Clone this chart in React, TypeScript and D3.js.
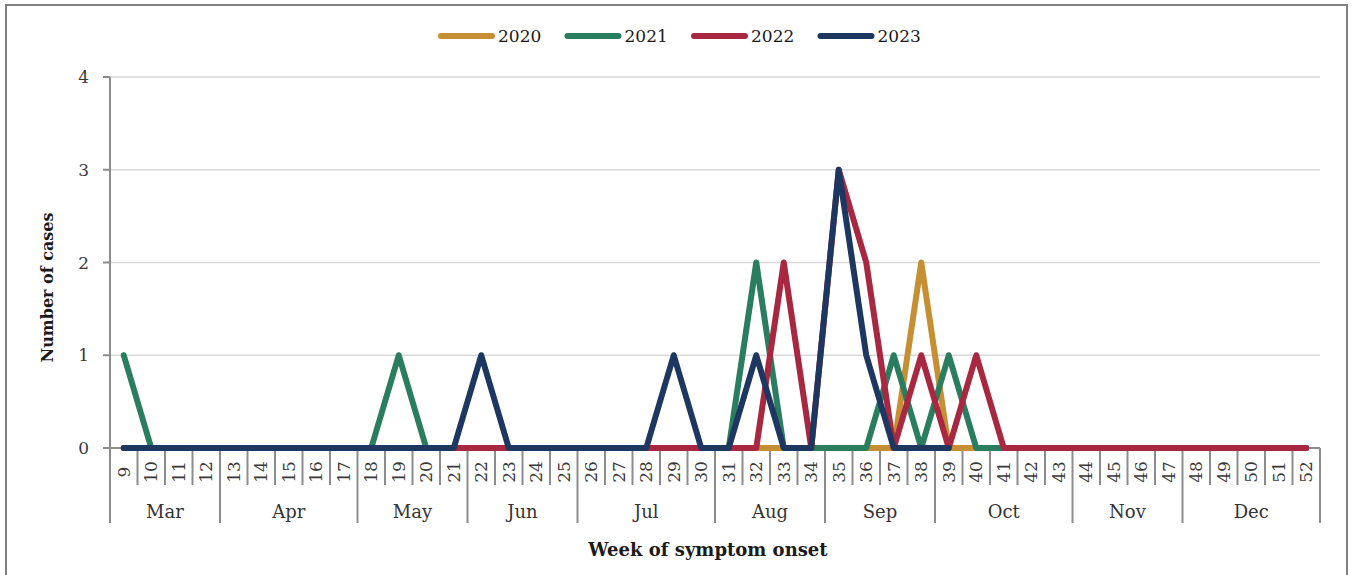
import React, { useRef, useEffect } from 'react';
import * as d3 from 'd3';

// Epi weeks shown on the x axis
const weeks: string[] = [
  '9', '10', '11', '12', '13', '14', '15', '16', '17', '18',
  '19', '20', '21', '22', '23', '24', '25', '26', '27', '28',
  '29', '30', '31', '32', '33', '34', '35', '36', '37', '38',
  '39', '40', '41', '42', '43', '44', '45', '46', '47', '48',
  '49', '50', '51', '52',
];

const months: string[] = ['Mar', 'Apr', 'May', 'Jun', 'Jul', 'Aug', 'Sep', 'Oct', 'Nov', 'Dec'];
const monthWeekCounts: number[] = [4, 5, 4, 4, 5, 4, 4, 5, 4, 5];

const yTicks: number[] = [0, 1, 2, 3, 4];

// cases per week, starting at week 9
const cases2020: number[] = [
  0, 0, 0, 0, 0, 0, 0, 0, 0, 0,
  0, 0, 0, 0, 0, 0, 0, 0, 0, 0,
  0, 0, 0, 0, 0, 0, 0, 0, 0, 2,
  0, 0, 0, 0, 0, 0, 0, 0, 0, 0,
  0, 0, 0, 0,
];
const cases2021: number[] = [
  1, 0, 0, 0, 0, 0, 0, 0, 0, 0,
  1, 0, 0, 0, 0, 0, 0, 0, 0, 0,
  0, 0, 0, 2, 0, 0, 0, 0, 1, 0,
  1, 0, 0, 0, 0, 0, 0, 0, 0, 0,
  0, 0, 0, 0,
];
const cases2022: number[] = [
  0, 0, 0, 0, 0, 0, 0, 0, 0, 0,
  0, 0, 0, 0, 0, 0, 0, 0, 0, 0,
  0, 0, 0, 0, 2, 0, 3, 2, 0, 1,
  0, 1, 0, 0, 0, 0, 0, 0, 0, 0,
  0, 0, 0, 0,
];
// 2023 only runs to week 39
const cases2023: number[] = [
  0, 0, 0, 0, 0, 0, 0, 0, 0, 0,
  0, 0, 0, 1, 0, 0, 0, 0, 0, 0,
  1, 0, 0, 1, 0, 0, 3, 1, 0, 0,
  0,
];

const seriesNames: string[] = ['2020', '2021', '2022', '2023'];
const seriesColors: string[] = ['#C68F34', '#2A7D5F', '#A82841', '#1E3761'];
const seriesValues: number[][] = [cases2020, cases2021, cases2022, cases2023];

const FONT = '"DejaVu Serif", serif';

const EpiChart: React.FC = () => {
  const svgRef = useRef<SVGSVGElement>(null);
  const width = 1354;
  const height = 575;

  useEffect(() => {
    if (!svgRef.current) return;
    const svg = d3.select(svgRef.current);
    svg.selectAll('*').remove();

    const plot = { left: 110, right: 1320, top: 77, bottom: 448 };

    const x = d3.scaleBand<string>().domain(weeks).range([plot.left, plot.right]).padding(0);
    const y = d3.scaleLinear().domain([0, 4]).range([plot.bottom, plot.top]);

    // outer frame
    svg.append('rect')
      .attr('x', 6)
      .attr('y', 5)
      .attr('width', 1341)
      .attr('height', 600)
      .attr('fill', '#fff')
      .attr('stroke', '#808080')
      .attr('stroke-width', 2);

    // gridlines
    svg.append('g')
      .selectAll('line')
      .data(yTicks.filter(t => t > 0))
      .enter()
      .append('line')
      .attr('x1', plot.left)
      .attr('x2', plot.right)
      .attr('y1', d => y(d))
      .attr('y2', d => y(d))
      .attr('stroke', '#d9d9d9')
      .attr('stroke-width', 1.5);

    // y axis
    const yAxis = svg.append('g');
    yAxis.append('line')
      .attr('x1', plot.left).attr('x2', plot.left)
      .attr('y1', y(4)).attr('y2', y(0))
      .attr('stroke', '#8c8c8c').attr('stroke-width', 2);
    yAxis.selectAll('.ytick')
      .data(yTicks)
      .enter()
      .append('line')
      .attr('x1', plot.left - 7).attr('x2', plot.left)
      .attr('y1', d => y(d)).attr('y2', d => y(d))
      .attr('stroke', '#8c8c8c').attr('stroke-width', 2);
    yAxis.selectAll('.ylab')
      .data(yTicks)
      .enter()
      .append('text')
      .attr('x', 89)
      .attr('y', d => y(d))
      .attr('dy', '0.36em')
      .attr('text-anchor', 'end')
      .style('font-family', FONT)
      .style('font-size', '17px')
      .style('fill', '#3a3a3a')
      .text(d => d);

    svg.append('text')
      .attr('transform', `translate(53, ${(y(4) + y(0)) / 2 + 25}) rotate(-90)`)
      .attr('text-anchor', 'middle')
      .style('font-family', FONT)
      .style('font-size', '16px')
      .style('font-weight', 'bold')
      .style('fill', '#1a1a1a')
      .text('Number of cases');

    // x axis: baseline, week ticks, month separators
    const xAxis = svg.append('g');
    xAxis.append('line')
      .attr('x1', plot.left).attr('x2', plot.right)
      .attr('y1', plot.bottom).attr('y2', plot.bottom)
      .attr('stroke', '#8c8c8c').attr('stroke-width', 2);

    const monthStarts: number[] = [];
    let acc = 0;
    monthWeekCounts.forEach(c => { monthStarts.push(acc); acc += c; });
    const monthBoundaryIdx = new Set([...monthStarts, weeks.length]);

    const boundaries = d3.range(weeks.length + 1);
    xAxis.selectAll('.xtick')
      .data(boundaries)
      .enter()
      .append('line')
      .attr('x1', i => (i < weeks.length ? (x(weeks[i]) as number) : plot.right))
      .attr('x2', i => (i < weeks.length ? (x(weeks[i]) as number) : plot.right))
      .attr('y1', plot.bottom)
      .attr('y2', i => (monthBoundaryIdx.has(i) ? 523 : 485))
      .attr('stroke', '#8c8c8c')
      .attr('stroke-width', 2);

    xAxis.selectAll('.xlab')
      .data(weeks)
      .enter()
      .append('text')
      .attr('transform', d => `translate(${(x(d) as number) + x.bandwidth() / 2 + 6}, 472) rotate(-90)`)
      .attr('text-anchor', 'middle')
      .style('font-family', FONT)
      .style('font-size', '17px')
      .style('fill', '#3a3a3a')
      .text(d => d);

    xAxis.selectAll('.mlab')
      .data(months)
      .enter()
      .append('text')
      .attr('x', (_d, i) => {
        const a = x(weeks[monthStarts[i]]) as number;
        const b = a + monthWeekCounts[i] * x.bandwidth();
        return (a + b) / 2;
      })
      .attr('y', 518)
      .attr('text-anchor', 'middle')
      .style('font-family', FONT)
      .style('font-size', '18px')
      .style('fill', '#333')
      .text(d => d);

    svg.append('text')
      .attr('x', 708)
      .attr('y', 556)
      .attr('text-anchor', 'middle')
      .style('font-family', FONT)
      .style('font-size', '18px')
      .style('font-weight', 'bold')
      .style('fill', '#1a1a1a')
      .text('Week of symptom onset');

    // series lines
    const line = d3.line<number>()
      .x((_d, i) => (x(weeks[i]) as number) + x.bandwidth() / 2)
      .y(d => y(d));

    seriesValues.forEach((vals, s) => {
      svg.append('path')
        .datum(vals)
        .attr('fill', 'none')
        .attr('stroke', seriesColors[s])
        .attr('stroke-width', 6)
        .attr('stroke-linejoin', 'round')
        .attr('stroke-linecap', 'round')
        .attr('d', line);
    });

    // legend
    const legend = svg.selectAll('.legend')
      .data(seriesNames)
      .enter()
      .append('g')
      .attr('transform', (_d, i) => `translate(${438 + i * 126.5}, 36)`);
    legend.append('line')
      .attr('x1', 3).attr('x2', 54)
      .attr('y1', 0).attr('y2', 0)
      .attr('stroke', (_d, i) => seriesColors[i])
      .attr('stroke-width', 6)
      .attr('stroke-linecap', 'round');
    legend.append('text')
      .attr('x', 60)
      .attr('y', 0)
      .attr('dy', '0.36em')
      .style('font-family', FONT)
      .style('font-size', '17px')
      .style('fill', '#1a1a1a')
      .text(d => d);
  }, []);

  return (
    <svg
      ref={svgRef}
      width={width}
      height={height}
      style={{ position: 'absolute', left: 0, top: 0, background: '#fff' }}
    />
  );
};

export default function App() {
  return <EpiChart />;
}
